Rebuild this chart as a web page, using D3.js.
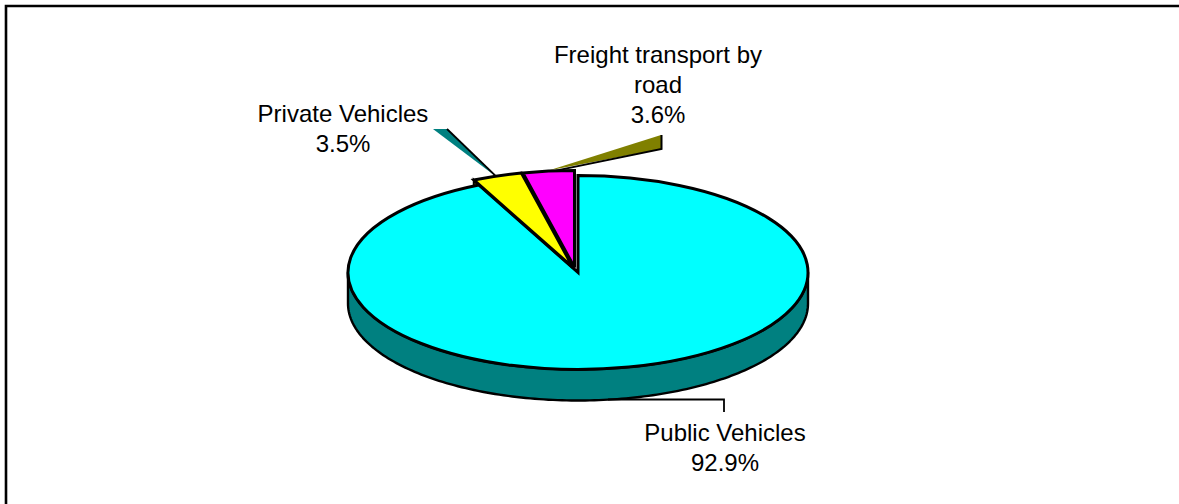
<!DOCTYPE html>
<html>
<head>
<meta charset="utf-8">
<script src="https://cdn.jsdelivr.net/npm/d3@7/dist/d3.min.js"></script>
<style>
  html, body { margin: 0; padding: 0; background: #fff; }
  svg { display: block; }
  text { font-family: "Liberation Sans", Arial, sans-serif; font-size: 24px; fill: #000; }
</style>
</head>
<body>
<div class="chart"></div>
<script>
"use strict";

// values
var categories = ['Public Vehicles', 'Private Vehicles', 'Freight transport by road'];
var shares = [92.9, 3.5, 3.6];
var sliceColors = ['#00ffff', '#ffff00', '#ff00ff'];
var sideColors = ['#008080', '#008080', '#808000'];
// wrapped label lines, same order as categories
var labelLines = [['Public Vehicles'], ['Private Vehicles'], ['Freight transport by', 'road']];

var width = 1179;
var height = 504;

var svg = d3.select('.chart').append('svg')
  .attr('width', width)
  .attr('height', height);

// frame only shows on top and left, the rest is cropped off
svg.append('path')
  .attr('d', 'M6,' + height + 'V6H' + width)
  .attr('fill', 'none')
  .attr('stroke', '#000')
  .attr('stroke-width', 2.6);

// tilted pie geometry
var cx = 578;
var cy = 272.5;
var rx = 230;
var ry = 97;
var depth = 31;
var tilt = ry / rx;
// how far each slice is pulled out of the pie
var explode = [{x: 0, y: 0}, {x: -5, y: -5}, {x: -3.5, y: -5}];

var sliceData = categories.map(function(name, i) {
  return {name: name, share: shares[i], fill: sliceColors[i], side: sideColors[i], lines: labelLines[i]};
});

var pie = d3.pie().sort(null).value(function(d) { return d.share; });
var slices = pie(sliceData);
var arc = d3.arc().innerRadius(0).outerRadius(rx);

// point on the top face rim, angle measured clockwise from 12 o'clock
var rimPoint = function(angle, off) {
  off = off || {x: 0, y: 0};
  return [cx + off.x + rx * Math.sin(angle), cy + off.y - ry * Math.cos(angle)];
};

// front wall of the pie
var rim = d3.range(Math.PI / 2, Math.PI * 1.5 + 0.001, 0.02).map(function(a) { return rimPoint(a); });
var rimLine = d3.line();
var wall = rim.concat(rim.slice().reverse().map(function(p) { return [p[0], p[1] + depth]; }));

svg.append('path')
  .attr('d', rimLine(wall) + 'Z')
  .attr('fill', sliceData[0].side)
  .attr('stroke', '#000')
  .attr('stroke-width', 2.4)
  .attr('stroke-linejoin', 'round');

// leader lines, drawn under the slices
var privateSlice = slices[1];
var freightSlice = slices[2];
var privateAnchor = rimPoint((privateSlice.startAngle + privateSlice.endAngle) / 2, explode[1]);
var freightAnchor = rimPoint((freightSlice.startAngle + freightSlice.endAngle) / 2, explode[2]);

var leader = svg.append('g');

leader.append('path')
  .attr('d', rimLine([[433, 129], [447, 129], [privateAnchor[0] - 0.5, privateAnchor[1] + 1]]) + 'Z')
  .attr('fill', sliceData[1].side);
leader.append('path')
  .attr('d', rimLine([[447, 129], [privateAnchor[0] - 0.5, privateAnchor[1] + 1]]))
  .attr('fill', 'none')
  .attr('stroke', '#000')
  .attr('stroke-width', 1.8);

leader.append('path')
  .attr('d', rimLine([[661, 135], [661, 149], [freightAnchor[0], freightAnchor[1] - 0.5]]) + 'Z')
  .attr('fill', sliceData[2].side);
leader.append('path')
  .attr('d', rimLine([[661.5, 135], [661.5, 149], [freightAnchor[0], freightAnchor[1] + 1]]))
  .attr('fill', 'none')
  .attr('stroke', '#000')
  .attr('stroke-width', 2);

var publicAnchor = [cx + 30, cy + ry + depth - 1];
leader.append('path')
  .attr('d', rimLine([publicAnchor, [724, 399.5], [724, 412]]))
  .attr('fill', 'none')
  .attr('stroke', '#000')
  .attr('stroke-width', 1.8);

// small wall edge showing left of the exploded yellow slice
var edge = rimPoint(privateSlice.startAngle, explode[1]);
svg.append('path')
  .attr('d', rimLine([edge, [edge[0], edge[1] + 7], [edge[0] + 6, edge[1] + 7]]) + 'Z')
  .attr('fill', sideColors[2])
  .attr('stroke', '#000')
  .attr('stroke-width', 2);

// top faces
svg.selectAll('.slice')
  .data(slices)
  .enter().append('path')
  .attr('class', 'slice')
  .attr('d', arc)
  .attr('transform', function(d, i) {
    return 'translate(' + (cx + explode[i].x) + ',' + (cy + explode[i].y) + ') scale(1,' + tilt + ')';
  })
  .attr('fill', function(d) { return d.data.fill; })
  .attr('stroke', '#000')
  .attr('stroke-width', 3)
  .attr('stroke-linejoin', 'miter')
  .attr('vector-effect', 'non-scaling-stroke');

// labels
var labelSpots = [{x: 725, y: 441}, {x: 343, y: 122}, {x: 658, y: 63}];
var lineHeight = 30;

svg.selectAll('.label')
  .data(sliceData)
  .enter().append('text')
  .attr('class', 'label')
  .attr('text-anchor', 'middle')
  .each(function(d, i) {
    var label = d3.select(this);
    d.lines.concat([d.share.toFixed(1) + '%']).forEach(function(line, n) {
      label.append('tspan')
        .attr('x', labelSpots[i].x)
        .attr('y', labelSpots[i].y + n * lineHeight)
        .text(line);
    });
  });
</script>
</body>
</html>
